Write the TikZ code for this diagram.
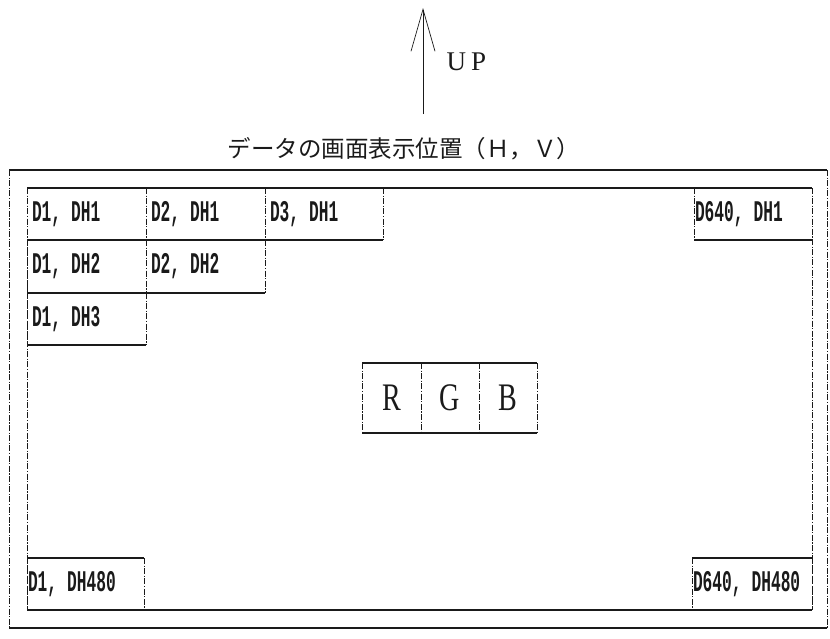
\documentclass[tikz,border=0pt]{standalone}
\usepackage{fontspec}
\setmainfont{Liberation Serif}
\newfontfamily\cellfont[FakeStretch=0.54]{Liberation Mono}
\newfontfamily\rgbfont[FakeStretch=0.72]{Liberation Serif}
\newfontfamily\jpfont{Noto Sans CJK JP}
\usetikzlibrary{arrows.meta}
\definecolor{ink}{HTML}{1A1A1A}
\tikzset{
  hl/.style={draw=ink, line width=1.3pt},
  vl/.style={draw=ink, line width=0.7pt, dash pattern=on 6pt off 1.5pt on 1.2pt off 1.5pt},
  box/.style={draw=none, outer sep=0pt, inner sep=0pt, anchor=north west},
  cell/.style={draw=none, outer sep=0pt, inner xsep=5pt, inner ysep=0pt, anchor=north west,
    align=left, text=ink, font=\cellfont\bfseries\fontsize{30}{32}\selectfont},
  tight/.style={inner xsep=1pt},
  rgb/.style={draw=none, outer sep=0pt, inner sep=0pt, anchor=north west, minimum height=70pt,
    text=ink, font=\rgbfont\fontsize{39}{42}\selectfont}
}
\begin{document}
\begin{tikzpicture}[x=1pt,y=-1pt]
\useasboundingbox (0,0) rectangle (830,638);

% UP arrow
\coordinate (upfoot) at (423,114);
\coordinate (uptip) at (423,8);
\draw[ink, line width=0.7pt, -{Straight Barb[length=42pt,width=24pt,line width=0.7pt]}] (upfoot) -- (uptip);
\node[anchor=west, text=ink, font=\fontsize{27}{30}\selectfont] (up) at (443,62) {U\hspace{5pt}P};

% title
\node[text=ink, font=\jpfont\fontsize{23.5}{27}\selectfont] (title) at (404,149) {データの画面表示位置（Ｈ，Ｖ）};

% frames
\node[box, minimum width=818pt, minimum height=458pt] (outer) at (9,170) {};
\node[box, minimum width=785pt, minimum height=422pt] (screen) at (27,188) {};

% cells
\node[cell, text width=109pt, minimum height=52pt] (c11) at (27,188) {D1, DH1};
\node[cell, text width=109pt, minimum height=52pt] (c21) at (146,188) {D2, DH1};
\node[cell, text width=108pt, minimum height=52pt] (c31) at (265,188) {D3, DH1};
\node[cell, text width=109pt, minimum height=53pt] (c12) at (27,240) {D1, DH2};
\node[cell, text width=109pt, minimum height=53pt] (c22) at (146,240) {D2, DH2};
\node[cell, text width=109pt, minimum height=52pt] (c13) at (27,293) {D1, DH3};
\node[cell, tight, text width=116pt, minimum height=52pt] (cr1) at (694,188) {D640, DH1};
\node[cell, tight, text width=115pt, minimum height=52pt] (cl480) at (27,558) {D1, DH480};
\node[cell, tight, text width=118pt, minimum height=52pt] (cr480) at (692,558) {D640, DH480};

% RGB
\node[rgb, minimum width=59pt] (r) at (362,363) {R};
\node[rgb, minimum width=58pt] (g) at (421,363) {G};
\node[rgb, minimum width=58pt] (b) at (479,363) {B};

% borders
\foreach \n in {outer,screen,c11,c21,c31,c12,c22,c13,cr1,cl480,cr480,r,g,b}{
  \draw[hl] (\n.north west) -- (\n.north east) (\n.south west) -- (\n.south east);
  \draw[vl] (\n.north west) -- (\n.south west) (\n.north east) -- (\n.south east);
}
\end{tikzpicture}
\end{document}
